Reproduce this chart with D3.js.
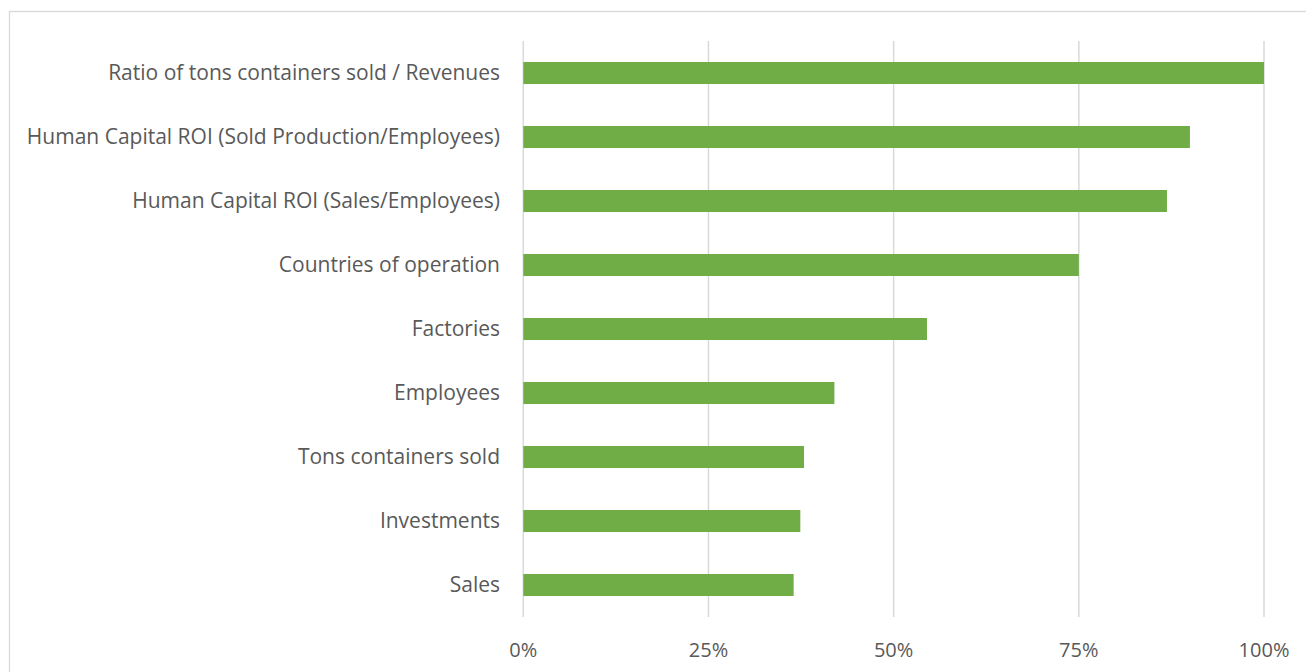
<!DOCTYPE html>
<html><head><meta charset="utf-8">
<script src="https://cdn.jsdelivr.net/npm/d3@7"></script>
<style>
html,body{margin:0;padding:0;background:#fff;overflow:hidden}
text{font-family:"Open Sans","Noto Sans",sans-serif}
</style></head>
<body><div id="chart"></div>
<script>
const categories = ["Ratio of tons containers sold / Revenues","Human Capital ROI (Sold Production/Employees)","Human Capital ROI (Sales/Employees)","Countries of operation","Factories","Employees","Tons containers sold","Investments","Sales"];
const values = [1.00, 0.90, 0.869, 0.75, 0.545, 0.42, 0.379, 0.374, 0.365];
const tickValues = [0, 0.25, 0.5, 0.75, 1.0];
const tickLabels = ["0%","25%","50%","75%","100%"];

const W = 1306, H = 672;
const svg = d3.select("#chart").append("svg").attr("width", W).attr("height", H);
svg.append("rect").attr("x", 9.5).attr("y", 11.5).attr("width", W).attr("height", H)
  .attr("fill", "#fff").attr("stroke", "#d9d9d9").attr("stroke-width", 1.3);

const x = d3.scaleLinear().domain([0, 1]).range([523.3, 1264]);
const y = d3.scaleBand().domain(categories).range([41, 617]).paddingInner(0.656).paddingOuter(0.328);

svg.append("g").selectAll("line").data(tickValues).join("line")
  .attr("x1", d => x(d)).attr("x2", d => x(d)).attr("y1", 41).attr("y2", 617)
  .attr("stroke", "#d9d9d9").attr("stroke-width", 1.5);

svg.append("g").selectAll("rect").data(values).join("rect")
  .attr("x", x(0)).attr("y", (d, i) => y(categories[i]))
  .attr("width", d => x(d) - x(0)).attr("height", y.bandwidth())
  .attr("fill", "#70ad47");

svg.append("g").selectAll("text").data(categories).join("text")
  .attr("x", 500).attr("y", d => y(d) + y.bandwidth() / 2)
  .attr("dy", "0.35em").attr("text-anchor", "end")
  .attr("fill", "#595959").style("font-size", "21px").text(d => d);

svg.append("g").selectAll("text").data(tickValues).join("text")
  .attr("x", d => x(d)).attr("y", 650).attr("dy", "0.35em").attr("text-anchor", "middle")
  .attr("fill", "#595959").style("font-size", "20px").text((d, i) => tickLabels[i]);
</script></body></html>
